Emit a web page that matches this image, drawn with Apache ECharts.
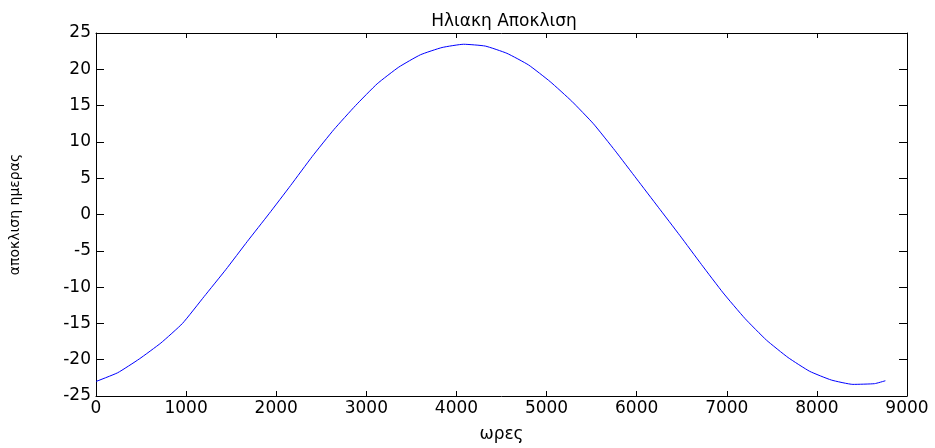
<!DOCTYPE html>
<html>
<head>
<meta charset="utf-8">
<script src="https://cdn.jsdelivr.net/npm/echarts@6/dist/echarts.min.js"></script>
<style>
  html, body { margin: 0; padding: 0; background: #fff; }
  #chart { width: 935px; height: 448px; }
</style>
</head>
<body>
<div id="chart"></div>
<script>
// Solar declination (degrees) through the year, sampled every 10 days (hours of the year)
const hours = [0, 240, 480, 720, 960, 1200, 1440, 1680, 1920, 2160, 2400, 2640, 2880, 3120,
  3360, 3600, 3840, 4080, 4320, 4560, 4800, 5040, 5280, 5520, 5760, 6000, 6240, 6480,
  6720, 6960, 7200, 7440, 7680, 7920, 8160, 8400, 8640, 8760];
const declination = [-23.0, -21.8, -19.9, -17.7, -15.0, -11.3, -7.6, -3.7, 0.1, 4.0, 8.0, 11.7,
  15.0, 18.0, 20.3, 22.0, 23.0, 23.45, 23.2, 22.2, 20.6, 18.3, 15.6, 12.5, 8.8, 4.9, 1.0,
  -2.9, -6.9, -10.8, -14.3, -17.3, -19.7, -21.6, -22.8, -23.4, -23.3, -22.9];

const xTicks = { min: 0, max: 9000, interval: 1000 };
const yTicks = { min: -25, max: 25, interval: 5 };

const titleText = 'Ηλιακη Αποκλιση';
const xName = 'ωρες';
const yName = 'αποκλιση ημερας';

const font = 'DejaVu Sans';
const chart = echarts.init(document.getElementById('chart'), null, { renderer: 'canvas' });

const boxLine = { show: true, onZero: false, lineStyle: { color: '#000', width: 1 } };
const plain = v => String(v);

chart.setOption({
  animation: false,
  backgroundColor: '#fff',
  title: {
    text: titleText,
    left: 499, top: 8, textAlign: 'center',
    textStyle: { fontFamily: font, fontSize: 17, fontWeight: 'normal', color: '#000' }
  },
  grid: { left: 92, top: 33, right: 28, bottom: 39, containLabel: false },
  xAxis: [
    {
      type: 'value', position: 'bottom', ...xTicks,
      name: xName, nameLocation: 'middle', nameGap: 30,
      nameTextStyle: { fontFamily: font, fontSize: 17, color: '#000' },
      axisLine: boxLine,
      axisTick: { show: true, inside: true, length: 5, lineStyle: { color: '#000' } },
      axisLabel: { fontFamily: font, fontSize: 17, color: '#000', margin: 4, formatter: plain },
      splitLine: { show: false }
    },
    {
      type: 'value', position: 'top', ...xTicks,
      axisLine: boxLine,
      axisTick: { show: true, inside: true, length: 5, lineStyle: { color: '#000' } },
      axisLabel: { show: false },
      splitLine: { show: false }
    }
  ],
  yAxis: [
    {
      type: 'value', position: 'left', ...yTicks,
      name: yName, nameLocation: 'middle', nameGap: 74, nameRotate: 90,
      nameTextStyle: { fontFamily: font, fontSize: 14, color: '#000' },
      axisLine: boxLine,
      axisTick: { show: true, inside: true, length: 8, lineStyle: { color: '#000' } },
      axisLabel: { fontFamily: font, fontSize: 17, color: '#000', margin: 5, formatter: plain },
      splitLine: { show: false }
    },
    {
      type: 'value', position: 'right', ...yTicks,
      axisLine: boxLine,
      axisTick: { show: true, inside: true, length: 8, lineStyle: { color: '#000' } },
      axisLabel: { show: false },
      splitLine: { show: false }
    }
  ],
  series: [{
    type: 'line',
    xAxisIndex: 0, yAxisIndex: 0,
    data: hours.map((h, i) => [h, declination[i]]),
    showSymbol: false,
    smooth: 0.15,
    lineStyle: { color: '#0000ff', width: 1 }
  }]
});
</script>
</body>
</html>
